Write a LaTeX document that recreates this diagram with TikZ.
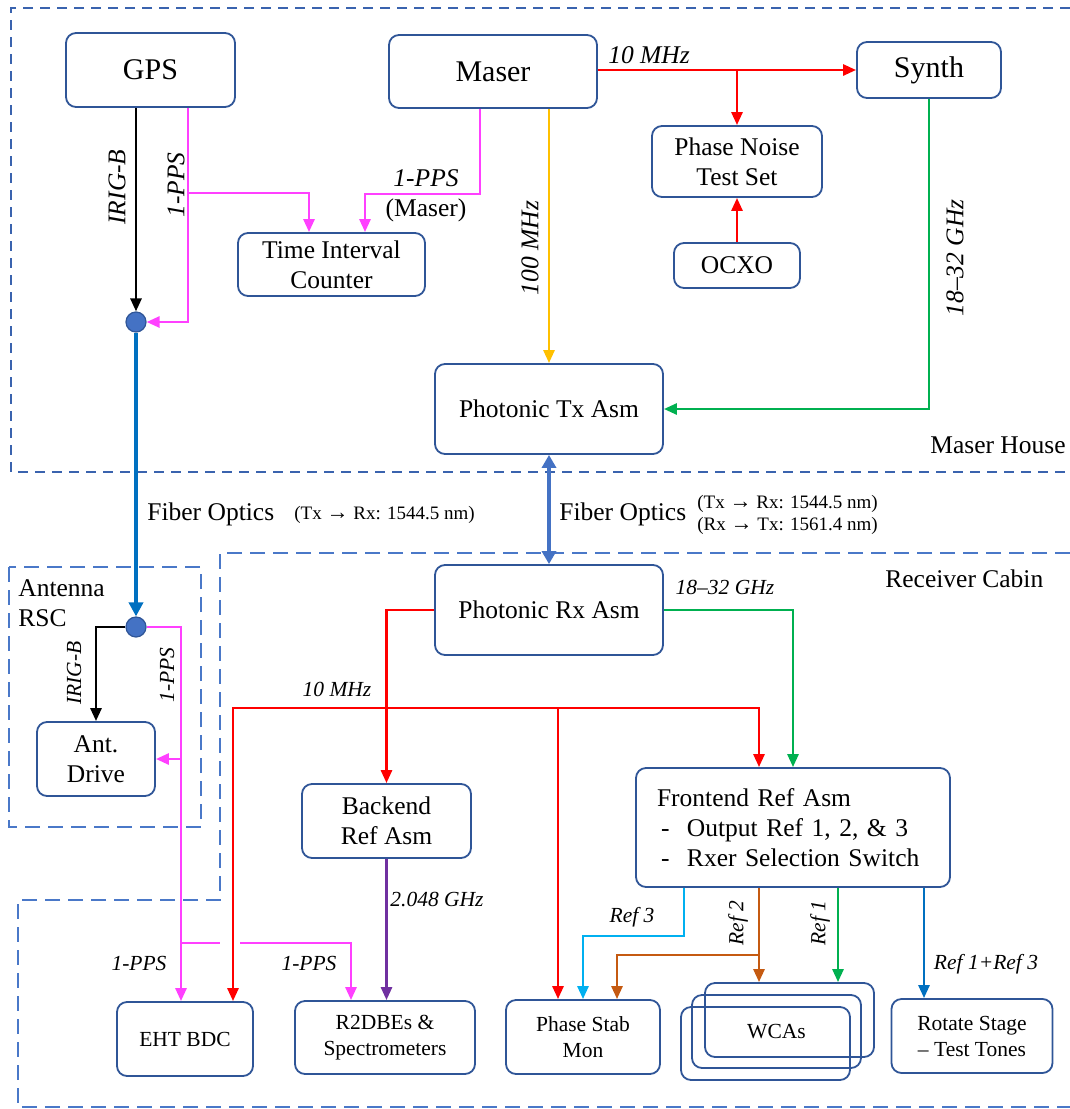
\documentclass[tikz,border=0pt]{standalone}
\usepackage{fontspec}
\setmainfont{Liberation Serif}
\usetikzlibrary{arrows.meta}
\definecolor{boxblue}{HTML}{2F5597}
\definecolor{dotblue}{HTML}{4472C4}
\definecolor{houseblue}{HTML}{3A63AE}
\definecolor{cabinblue}{HTML}{4A78C8}
\definecolor{sigred}{HTML}{FF0000}
\definecolor{sigmag}{HTML}{FF40FF}
\definecolor{sigyel}{HTML}{FFC000}
\definecolor{siggrn}{HTML}{00B050}
\definecolor{sigpur}{HTML}{7030A0}
\definecolor{sigcyan}{HTML}{00B0F0}
\definecolor{sigbrn}{HTML}{C55A11}
\definecolor{fibblue}{HTML}{0070C0}
\newcommand{\txarrow}{{\fontsize{11}{11}\selectfont\textbf{→}}}

\begin{document}
\begin{tikzpicture}
	[x=0.5pt, y=-0.5pt,
	box/.style = {draw=boxblue, line width=0.9pt, rounded corners=5pt, align=center, inner sep=1pt},
	big/.style = {font=\fontsize{15}{18}\selectfont},
	mid/.style = {font=\fontsize{12.75}{15}\selectfont},
	sml/.style = {font=\fontsize{10.75}{13}\selectfont},
	lbl/.style = {inner sep=0pt, font=\fontsize{12.75}{15}\selectfont\itshape},
	slbl/.style = {inner sep=0pt, font=\fontsize{10.75}{13}\selectfont\itshape},
	txt/.style = {inner sep=0pt, font=\fontsize{12.75}{15}\selectfont},
	tiny/.style = {inner sep=0pt, align=left, font=\fontsize{9.5}{11}\selectfont},
	sig/.style = {line width=1.35pt, -{Triangle[length=6.5pt,width=5.5pt]}},
	fib/.style = {draw=fibblue, line width=2.3pt, -{Triangle[length=7pt,width=7pt]}},
	fibtwo/.style = {draw=dotblue, line width=2.1pt, {Triangle[length=6.5pt,width=7pt]}-{Triangle[length=6.5pt,width=7pt]}},
	dot/.style = {circle, draw=boxblue, fill=dotblue, line width=0.6pt, minimum size=10pt, inner sep=0pt},
	house/.style = {draw=houseblue, line width=0.6pt, dash pattern=on 5pt off 3.5pt},
	cabin/.style = {draw=cabinblue, line width=0.6pt, dash pattern=on 7.5pt off 4pt}]
	\useasboundingbox (0,0) rectangle (1070,1109);

	% zones
	\draw[house] (1070,8) -- (11,8) -- (11,472) -- (1070,472);
	\draw[cabin] (1070,553) -- (220,553) -- (220,900) -- (18,900) -- (18,1107) -- (1070,1107);
	\draw[cabin] (9,567) rectangle (201,827);
	\node[txt, anchor=base east] (mh) at (1066,453) {Maser House};
	\node[txt, anchor=base west] (rc) at (885,587) {Receiver Cabin};
	\node[txt, anchor=north west, align=left] (rsc) at (18,579) {Antenna\\RSC};

	% maser house
	\node[box, big, minimum width=84.5pt, minimum height=37pt] (gps) at (150.5,70) {GPS};
	\node[box, big, minimum width=104pt, minimum height=36.5pt] (maser) at (493,71.5) {Maser};
	\node[box, big, minimum width=72pt, minimum height=28pt] (synth) at (929,70) {Synth};
	\node[box, mid, minimum width=85pt, minimum height=35.5pt] (pnts) at (737,161.5) {Phase Noise\\Test Set};
	\node[box, mid, minimum width=63pt, minimum height=22.5pt] (ocxo) at (737,265.5) {OCXO};
	\node[box, mid, minimum width=93.5pt, minimum height=31.5pt] (tic) at (331.5,264.5) {Time Interval\\Counter};
	\node[box, mid, minimum width=114pt, minimum height=45pt] (tx) at (549,409) {Photonic Tx Asm};
	\node[dot] (c1) at (136,322) {};

	% receiver cabin
	\node[box, mid, minimum width=114pt, minimum height=45pt] (rx) at (549,610) {Photonic Rx Asm};
	\node[box, mid, minimum width=84.5pt, minimum height=37pt] (bk) at (386.5,821) {Backend\\Ref Asm};
	\node[box, mid, align=left, text width=136pt, inner xsep=10.5pt, minimum height=59.5pt] (fe) at (793,827.5)
		{Frontend Ref Asm\\\makebox[15pt][l]{\hspace{2pt}-}Output Ref 1, 2, \& 3\\\makebox[15pt][l]{\hspace{2pt}-}Rxer Selection Switch};
	\node[box, sml, minimum width=68pt, minimum height=37pt] (eht) at (185,1039) {EHT BDC};
	\node[box, sml, minimum width=90pt, minimum height=36.5pt] (r2) at (385,1037.5) {R2DBEs \&\\Spectrometers};
	\node[box, sml, minimum width=77pt, minimum height=37pt] (ps) at (583,1037) {Phase Stab\\Mon};
	\node[box, minimum width=84.5pt, minimum height=37pt] (wb) at (789.5,1020) {};
	\node[box, sml, minimum width=84.5pt, minimum height=36.5pt] (wm) at (776.5,1031.5) {WCAs};
	\node[box, minimum width=84.5pt, minimum height=36.5pt] (wf) at (765.5,1043.5) {};
	\node[box, sml, minimum width=80.5pt, minimum height=37pt] (rot) at (972,1036) {Rotate Stage\\-- Test Tones};
	\node[box, mid, minimum width=59pt, minimum height=37pt] (ant) at (96,759) {Ant.\\Drive};
	\node[dot] (c2) at (136,627) {};

	% junctions
	\coordinate (j1) at (188,193);
	\coordinate (j2) at (309,193);
	\coordinate (j3) at (480,194);
	\coordinate (j4) at (365,194);
	\coordinate (j5) at (181,759);
	\coordinate (j6) at (181,943);
	\coordinate (j7) at (351,943);
	\coordinate (j8) at (386,708);
	\coordinate (j9) at (233,708);
	\coordinate (j10) at (759,708);
	\coordinate (j11) at (558,708);
	\coordinate (j13) at (684,936);
	\coordinate (j14) at (759,955);
	\coordinate (j15) at (617,955);
	\coordinate (j16) at (838,955);
	\coordinate (j17) at (924,955);

	% maser house links
	\draw[sig, black] (c1 |- gps.south) -- (c1.north);
	\draw[sig, sigmag] (gps.south -| j1) -- (j1 |- c1) -- (c1.east);
	\draw[sig, sigmag] (j1) -- (j2) -- (j2 |- tic.north);
	\draw[sig, sigmag] (maser.south -| j3) -- (j3) -- (j4) -- (j4 |- tic.north);
	\draw[sig, sigyel] (maser.south -| tx.north) -- (tx.north);
	\draw[sig, sigred] (maser.east |- synth.west) -- (synth.west);
	\draw[sig, sigred] (pnts.north |- synth.west) -- (pnts.north);
	\draw[sig, sigred] (ocxo.north) -- (pnts.south);
	\draw[sig, siggrn] (synth.south) |- (tx.east);
	\node[lbl, rotate=90] (l1) at (117,187) {IRIG-B};
	\node[lbl, rotate=90] (l2) at (176,185) {1-PPS};
	\node[lbl] (l3) at (426,178) {1-PPS};
	\node[txt] (l4) at (426,210) {(Maser)};
	\node[lbl, rotate=90] (l5) at (530,248) {100 MHz};
	\node[lbl] (l6) at (649,55) {10 MHz};
	\node[lbl, rotate=90] (l7) at (955,258) {18--32 GHz};

	% fibre links
	\draw[fib] (c1.south) -- (c2.north);
	\draw[fibtwo] (tx.south) -- (rx.north);
	\node[txt, anchor=base west] (f1) at (147,520) {Fiber Optics};
	\node[tiny, anchor=base west] (f2) at (294,519) {(Tx \txarrow\ Rx: 1544.5 nm)};
	\node[txt, anchor=base west] (f3) at (559,520) {Fiber Optics};
	\node[tiny, anchor=west] (f4) at (697,515) {(Tx \txarrow\ Rx: 1544.5 nm)\\(Rx \txarrow\ Tx: 1561.4 nm)};

	% antenna links
	\draw[sig, black] (c2.west) -| (ant.north);
	\draw[sig, sigmag] (c2.east) -| (j5 |- eht.north);
	\draw[sig, sigmag] (j5) -- (ant.east);
	\draw[sig, sigmag] (j6) -- ++(39,0) ++(20,0) -- (j7) -- (j7 |- r2.north);
	\node[slbl, rotate=90] (l8) at (74,673) {IRIG-B};
	\node[slbl, rotate=90] (l9) at (167,675) {1-PPS};
	\node[slbl] (l10) at (139,963) {1-PPS};
	\node[slbl] (l11) at (309,963) {1-PPS};

	% receiver cabin links
	\draw[sig, sigred] (rx.west) -| (bk.north);
	\draw[sig, sigred] (j8) -- (j9) -- (j9 |- eht.north);
	\draw[sig, sigred] (j8) -- (j10) -- (j10 |- fe.north);
	\draw[sig, sigred] (j11) -- (j11 |- ps.north);
	\draw[sig, sigpur] (bk.south) -- (bk.south |- r2.north);
	\draw[sig, siggrn] (rx.east) -| (fe.north);
	\draw[sig, sigcyan] (fe.south -| j13) -- (j13) -| (ps.north);
	\draw[sig, sigbrn] (fe.south -| j14) -- (j14 |- wb.north);
	\draw[sig, sigbrn] (j14) -- (j15) -- (j15 |- ps.north);
	\draw[sig, siggrn] (fe.south -| j16) -- (j16 |- wb.north);
	\draw[sig, fibblue] (fe.south -| j17) -- (j17 |- rot.north);
	\node[slbl] (l12) at (337,689) {10 MHz};
	\node[slbl] (l13) at (725,587) {18--32 GHz};
	\node[slbl] (l14) at (437,899) {2.048 GHz};
	\node[slbl] (l15) at (632,917) {Ref 3};
	\node[slbl, rotate=90] (l16) at (738,923) {Ref 2};
	\node[slbl, rotate=90] (l17) at (820,923) {Ref 1};
	\node[slbl] (l18) at (986,964) {Ref 1+Ref 3};
\end{tikzpicture}
\end{document}
